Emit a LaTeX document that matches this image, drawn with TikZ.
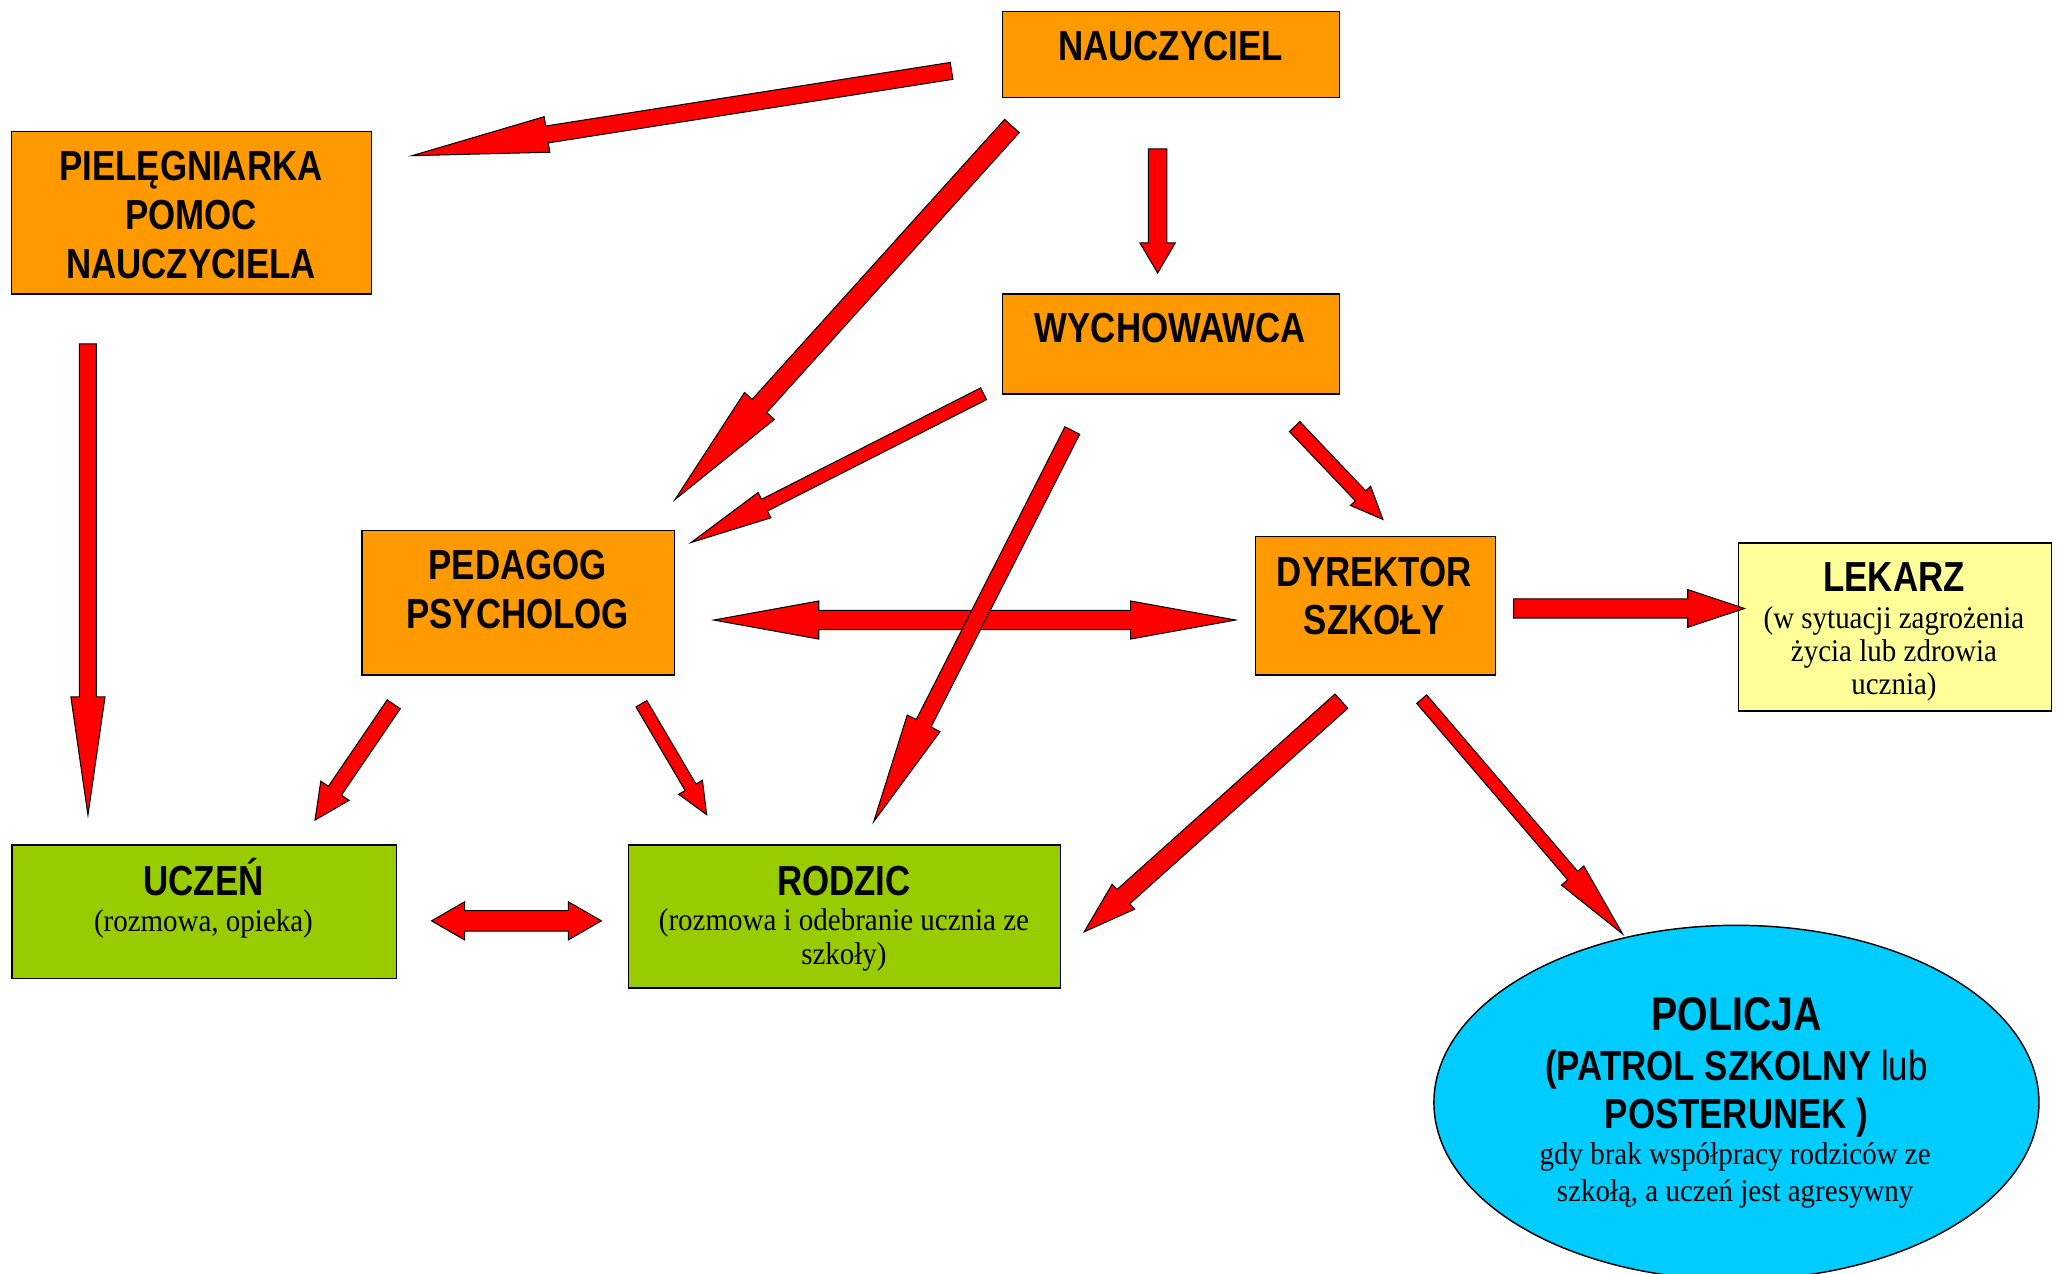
\documentclass[tikz,border=0pt]{standalone}
\usepackage{fontspec}
\usetikzlibrary{calc,shapes.geometric}
\newfontfamily\sansC[FakeStretch=0.83]{Liberation Sans}
\newfontfamily\serifC[FakeStretch=0.92]{Liberation Serif}
\definecolor{boxorange}{HTML}{FF9900}
\definecolor{boxgreen}{HTML}{99CC00}
\definecolor{boxyellow}{HTML}{FFFF99}
\definecolor{boxcyan}{HTML}{00CCFF}
\definecolor{arrred}{HTML}{FF0000}
\tikzset{
  box/.style={draw=black, line width=1.1pt, inner sep=0pt, anchor=north west},
  bt/.style={font=\sansC\bfseries\fontsize{32}{37}\selectfont, anchor=base, inner sep=0pt},
  bigbt/.style={font=\sansC\bfseries\fontsize{36}{38}\selectfont, anchor=base, inner sep=0pt},
  st/.style={font=\serifC\fontsize{24}{26}\selectfont, anchor=base, inner sep=0pt},
  arrowfill/.style={fill=arrred, draw=black, line width=0.8pt, line join=miter}
}
% single block arrow: #1 tail, #2 tip, #3 half shaft, #4 half head, #5 head length
\newcommand\blockarr[5]{%
  \coordinate (#1b) at ($(#2)!#5pt!(#1)$);
  \path[arrowfill] ($(#1)!#3pt!90:(#2)$) -- ($(#1b)!#3pt!90:(#2)$) -- ($(#1b)!#4pt!90:(#2)$)
    -- (#2) -- ($(#1b)!#4pt!-90:(#2)$) -- ($(#1b)!#3pt!-90:(#2)$) -- ($(#1)!#3pt!-90:(#2)$) -- cycle;
}
% double block arrow
\newcommand\dblockarr[5]{%
  \coordinate (#1b) at ($(#1)!#5pt!(#2)$);
  \coordinate (#2b) at ($(#2)!#5pt!(#1)$);
  \path[arrowfill] (#1) -- ($(#1b)!#4pt!90:(#2)$) -- ($(#1b)!#3pt!90:(#2)$) -- ($(#2b)!#3pt!90:(#2)$)
    -- ($(#2b)!#4pt!90:(#2)$) -- (#2) -- ($(#2b)!#4pt!-90:(#2)$) -- ($(#2b)!#3pt!-90:(#2)$)
    -- ($(#1b)!#3pt!-90:(#2)$) -- ($(#1b)!#4pt!-90:(#2)$) -- cycle;
}
\begin{document}
\begin{tikzpicture}[x=1pt,y=-1pt]
\useasboundingbox[fill=white] (0,0) rectangle (1568,970.6);
\begin{scope}
\clip (0,0) rectangle (1568,970.6);
% boxes
\node[box, fill=boxorange, minimum width=256.6pt, minimum height=65.6pt] (nau) at (763.4,8.1) {};
\node[box, fill=boxorange, minimum width=274.3pt, minimum height=123.9pt] (piel) at (8,99.6) {};
\node[box, fill=boxorange, minimum width=256.6pt, minimum height=76.2pt] (wych) at (763.4,223.5) {};
\node[box, fill=boxorange, minimum width=237.9pt, minimum height=110.2pt] (ped) at (275.4,403.6) {};
\node[box, fill=boxorange, minimum width=182.9pt, minimum height=105.7pt] (dyr) at (955.8,408.1) {};
\node[box, fill=boxyellow, minimum width=238.3pt, minimum height=128pt] (lek) at (1324,413) {};
\node[box, fill=boxgreen, minimum width=293.1pt, minimum height=101.7pt] (ucz) at (8.5,643.4) {};
\node[box, fill=boxgreen, minimum width=328.8pt, minimum height=108.8pt] (rodz) at (478.5,643.4) {};
\node[ellipse, draw=black, line width=1.1pt, fill=boxcyan, inner sep=0pt, minimum width=461pt, minimum height=270pt] (pol) at (1323,840) {};
\end{scope}
% texts
\node[bt] (nau-t) at (891.7,46.2) {NAUCZYCIEL};
\node[bt] (piel-t1) at (145.5,137.7) {PIELĘGNIARKA};
\node[bt] (piel-t2) at (145.5,174.7) {POMOC};
\node[bt] (piel-t3) at (145.5,212) {NAUCZYCIELA};
\node[bt] (wych-t) at (891.7,261.1) {WYCHOWAWCA};
\node[bt] (ped-t1) at (394.4,441.9) {PEDAGOG};
\node[bt] (ped-t2) at (394.4,478.6) {PSYCHOLOG};
\node[bt] (dyr-t1) at (1047.2,447) {DYREKTOR};
\node[bt] (dyr-t2) at (1047.2,483.8) {SZKOŁY};
\node[bt] (lek-t) at (1443,450.8) {LEKARZ};
\node[st] (lek-s1) at (1443,478.5) {(w sytuacji zagrożenia};
\node[st] (lek-s2) at (1443,504) {życia lub zdrowia};
\node[st] (lek-s3) at (1443,528.8) {ucznia)};
\node[bt] (ucz-t) at (155,682) {UCZEŃ};
\node[st] (ucz-s) at (155,709.5) {(rozmowa, opieka)};
\node[bt] (rodz-t) at (643,682) {RODZIC};
\node[st] (rodz-s1) at (643,709) {(rozmowa i odebranie ucznia ze};
\node[st] (rodz-s2) at (643,734.7) {szkoły)};
\node[bigbt] (pol-t1) at (1323,784.8) {POLICJA};
\node[bt] (pol-t2) at (1323,822.9) {(PATROL SZKOLNY \mdseries lub};
\node[bt] (pol-t3) at (1323,859.7) {POSTERUNEK )};
\node[st] (pol-s1) at (1322,887.4) {gdy brak współpracy rodziców ze};
\node[st] (pol-s2) at (1322,915.3) {szkołą, a uczeń jest agresywny};
% arrow end coordinates
\coordinate (a1t) at (725,54);      \coordinate (a1p) at (314,118.6);
\coordinate (a2t) at (771,96);      \coordinate (a2p) at (514.3,380.6);
\coordinate (a3t) at (882,113.5);   \coordinate (a3p) at (882,208);
\coordinate (a4t) at (67,262);      \coordinate (a4p) at (67,621);
\coordinate (a5t) at (749.4,300);   \coordinate (a5p) at (526.6,413.3);
\coordinate (a6t) at (817,328);     \coordinate (a6p) at (665.7,626);
\coordinate (a7t) at (986.4,325);   \coordinate (a7p) at (1053.6,395.7);
\coordinate (a8l) at (543.8,472.4); \coordinate (a8r) at (941.4,472.4);
\coordinate (a9t) at (1153.2,463.6);\coordinate (a9p) at (1329.1,463.6);
\coordinate (a10t) at (1022,534.2); \coordinate (a10p) at (826.1,709.9);
\coordinate (a11t) at (1083.2,532.7); \coordinate (a11p) at (1236.3,711.6);
\coordinate (a12t) at (300,536.6);  \coordinate (a12p) at (240,624.8);
\coordinate (a13t) at (488.7,536.2);\coordinate (a13p) at (538.4,620.7);
\coordinate (a14l) at (328.8,701.6);\coordinate (a14r) at (458.2,701.6);
% arrows
\blockarr{a1t}{a1p}{6.5}{13.7}{104}
\blockarr{a2t}{a2p}{7.5}{15.3}{96}
\blockarr{a3t}{a3p}{7}{13.5}{23}
\blockarr{a4t}{a4p}{6.5}{13}{90}
\blockarr{a5t}{a5p}{5}{10.8}{62.7}
\dblockarr{a8l}{a8r}{7.3}{14.5}{80}
\blockarr{a6t}{a6p}{6.3}{14}{84}
\blockarr{a7t}{a7p}{5.5}{10.6}{24.7}
\blockarr{a9t}{a9p}{7.25}{14.35}{43.2}
\blockarr{a10t}{a10p}{7.3}{12.8}{40}
\blockarr{a11t}{a11p}{5}{11.2}{58.6}
\blockarr{a12t}{a12p}{6}{13}{27}
\blockarr{a13t}{a13p}{4.8}{10.5}{24.2}
\dblockarr{a14l}{a14r}{7.75}{14.5}{25.2}
\end{tikzpicture}
\end{document}
